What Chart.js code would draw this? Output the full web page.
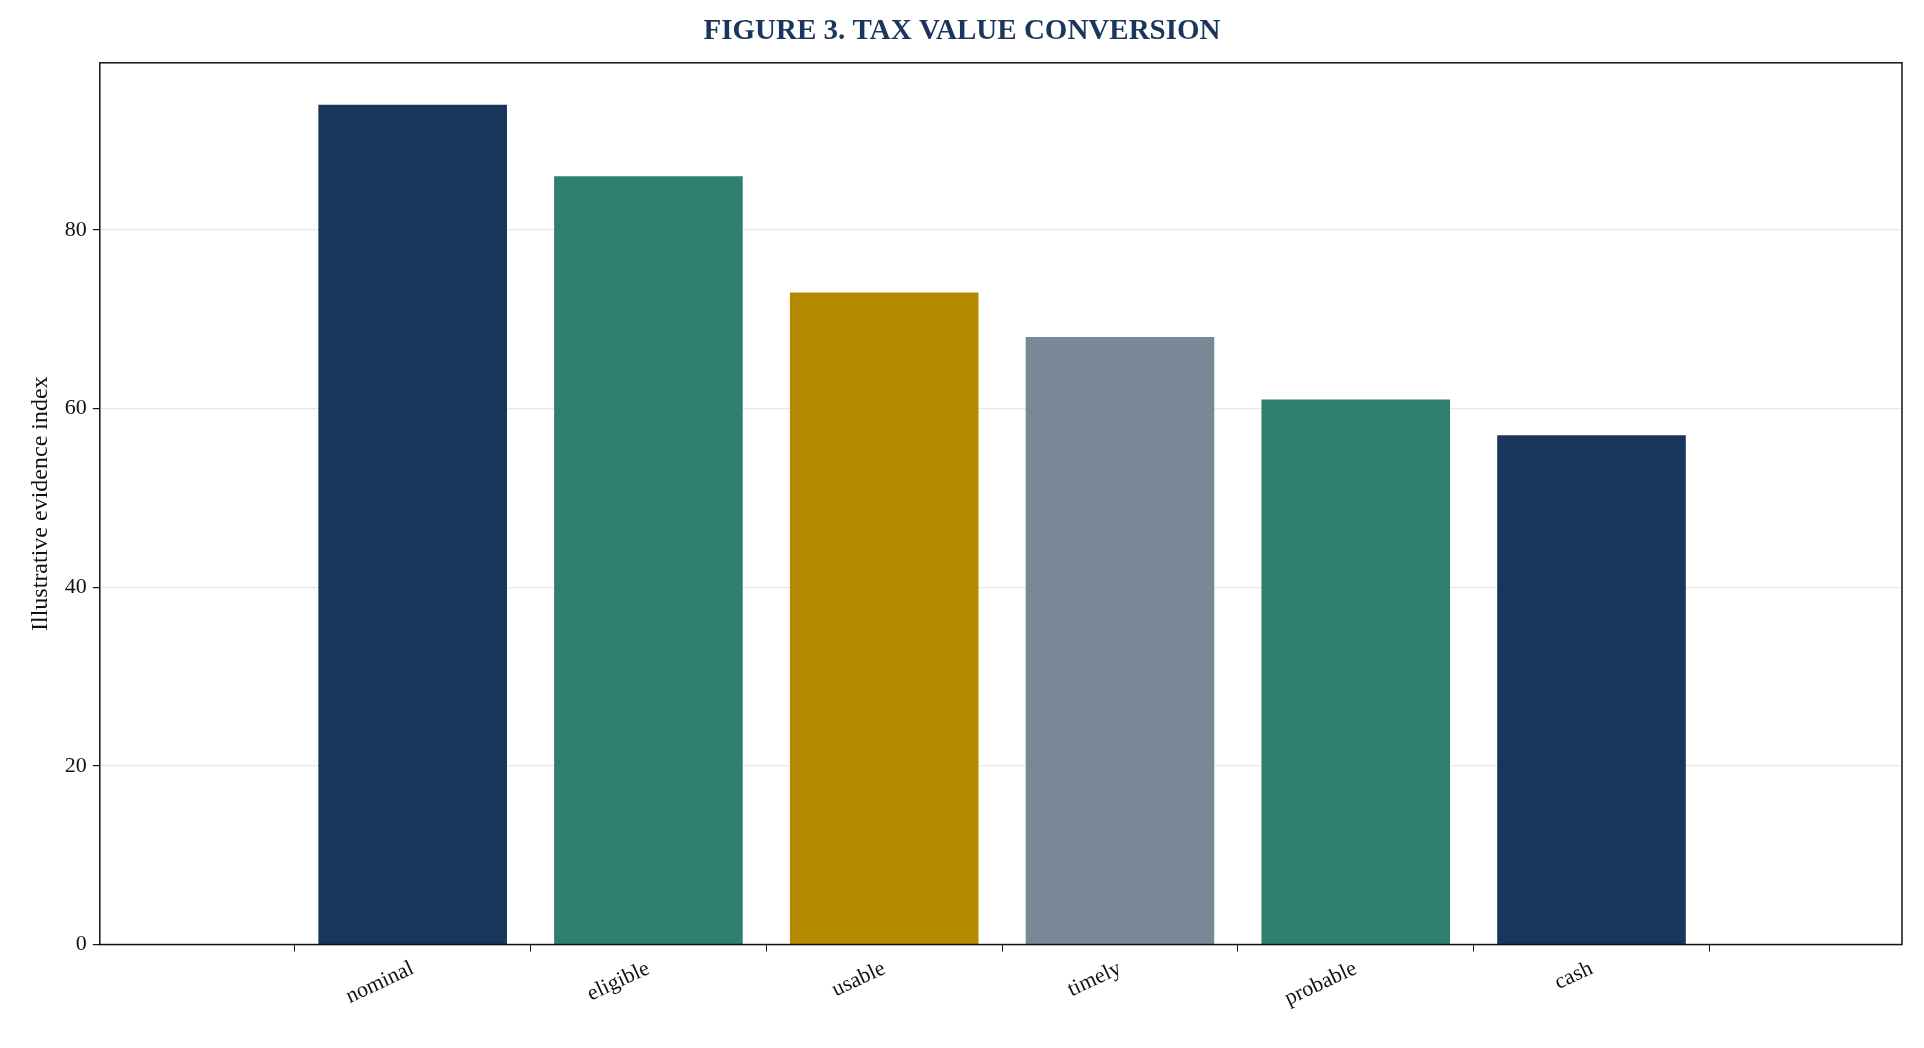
<!DOCTYPE html>
<html>
<head>
<meta charset="utf-8">
<script src="https://cdn.jsdelivr.net/npm/chart.js@4"></script>
<style>
  html, body { margin: 0; padding: 0; background: #fff; }
  #wrap { width: 1924px; height: 1048px; }
</style>
</head>
<body>
<div id="wrap"><canvas id="chart" width="1924" height="1048"></canvas></div>
<script>
const categories = ['nominal', 'eligible', 'usable', 'timely', 'probable', 'cash'];
const values = [94, 86, 73, 68, 61, 57];
const barColors = ['#18365c', '#2e7f6f', '#b38a00', '#7a8796', '#2e7f6f', '#18365c'];
const yTicks = [0, 20, 40, 60, 80];

// draw the plot frame like matplotlib spines
const frame = {
  id: 'frame',
  afterDraw(chart) {
    const a = chart.chartArea, c = chart.ctx;
    c.save();
    c.strokeStyle = '#111';
    c.lineWidth = 1.5;
    c.strokeRect(a.left, a.top, a.right - a.left, a.bottom - a.top);
    c.restore();
  }
};

new Chart(document.getElementById('chart'), {
  type: 'bar',
  data: {
    datasets: [{
      data: values.map((v, i) => ({ x: i, y: v })),
      backgroundColor: barColors,
      borderWidth: 0,
      categoryPercentage: 0.8,
      barPercentage: 1.0
    }]
  },
  options: {
    responsive: false,
    animation: false,
    layout: { padding: { left: 22, right: 22, top: 0, bottom: 32 } },
    plugins: {
      legend: { display: false },
      tooltip: { enabled: false },
      title: {
        display: true,
        text: 'FIGURE 3. TAX VALUE CONVERSION',
        color: '#1a365d',
        font: { family: 'Liberation Serif', size: 29, weight: 'bold' },
        padding: { top: 14, bottom: 14 }
      }
    },
    scales: {
      x: {
        type: 'linear',
        min: -0.69,
        max: 5.68,
        afterBuildTicks(axis) { axis.ticks = categories.map((c, i) => ({ value: i })); },
        grid: { drawOnChartArea: false, drawTicks: true, tickColor: '#111', tickLength: 7 },
        border: { display: false },
        ticks: {
          color: '#111',
          font: { family: 'Liberation Serif', size: 22 },
          maxRotation: 25,
          minRotation: 25,
          padding: 4,
          callback: v => categories[v]
        }
      },
      y: {
        min: 0,
        max: 98.7,
        afterBuildTicks(axis) { axis.ticks = yTicks.map(v => ({ value: v })); },
        grid: { color: '#e8e8e8', lineWidth: 1.2, tickColor: '#111', tickLength: 7 },
        border: { display: false },
        ticks: { color: '#111', font: { family: 'Liberation Serif', size: 22 }, padding: 6 },
        title: {
          display: true,
          text: 'Illustrative evidence index',
          color: '#111',
          font: { family: 'Liberation Serif', size: 24 }
        }
      }
    }
  },
  plugins: [frame]
});
</script>
</body>
</html>
